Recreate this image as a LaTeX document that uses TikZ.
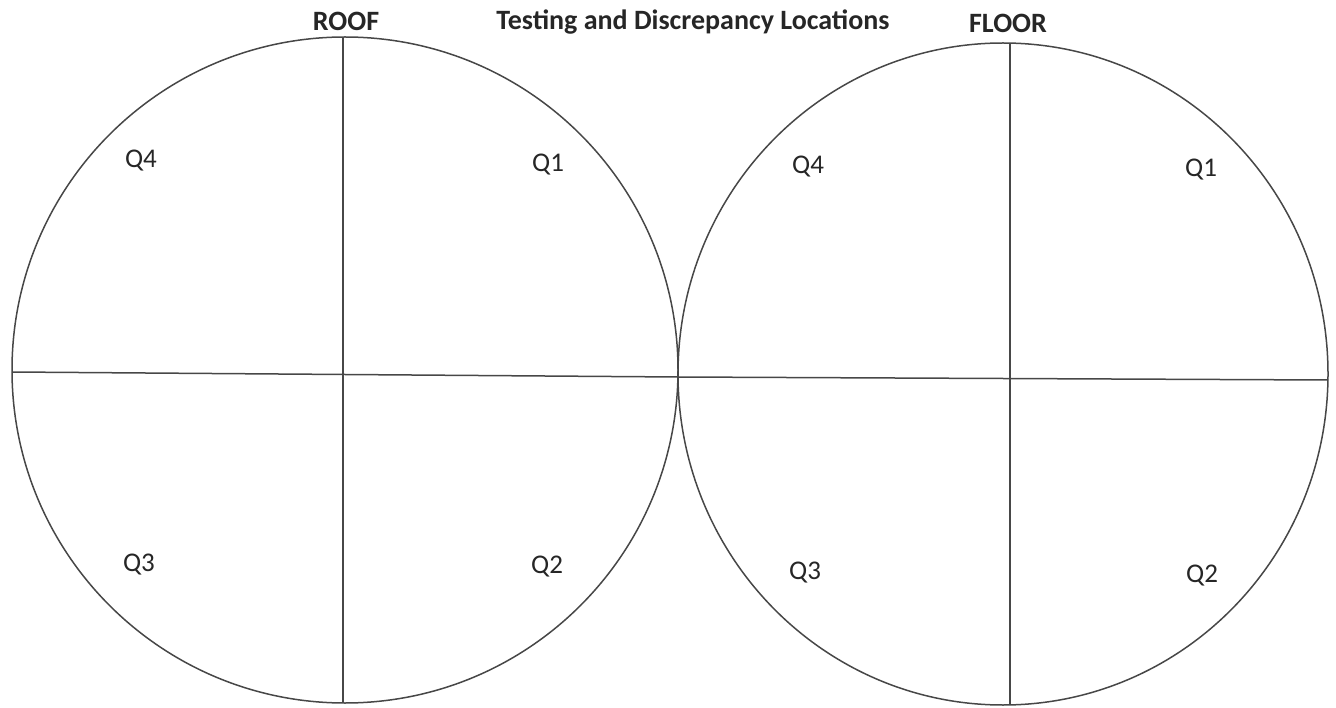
\documentclass[tikz,border=0pt]{standalone}
\usepackage{fontspec}
\setmainfont{Carlito}
\usetikzlibrary{positioning,calc}

\begin{document}
\begin{tikzpicture}[x=1pt, y=-1pt,
    rim/.style={draw=black!72, line width=1.5pt},
    quad/.style={font=\fontsize{27}{30}\selectfont, text=black!85},
    head/.style={font=\fontsize{28}{31}\selectfont\bfseries, text=black!85}]

\useasboundingbox (0,0) rectangle (1336,708);

% Define circle positions
\def\leftx{345}
\def\lefty{370}
\def\leftr{333}
\def\rightx{1003}
\def\righty{374}

% Roof circle
\draw[rim] (\leftx,\lefty) circle [radius=\leftr];
\draw[rim] (343,37) -- (343,703);
\draw[rim] (12,372) -- (678,377);

% Floor circle
\draw[rim] (\rightx,\righty) ellipse [x radius=325, y radius=331];
\draw[rim] (1010,43) -- (1010,705);
\draw[rim] (678,377) -- (1328,380);

% Headings
\node[head] (roof) at (346,21) {ROOF};
\node[head] (floor) at (1008,23) {FLOOR};
\node[head] (title) at (693,22) {Testing and Discrepancy Locations};

% Quadrant labels
\foreach \name/\px/\py/\txt in {rq4/141/161/Q4, rq1/548/165/Q1, rq3/139/565/Q3, rq2/547/567/Q2,
                                fq4/808/167/Q4, fq1/1201/170/Q1, fq3/805/573/Q3, fq2/1202/576/Q2} {
    \node[quad] (\name) at (\px,\py) {\txt};
}

\end{tikzpicture}
\end{document}
